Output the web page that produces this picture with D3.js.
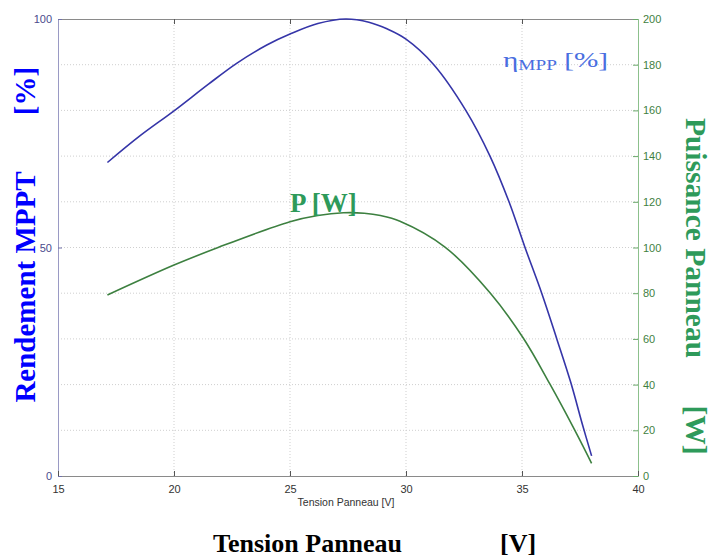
<!DOCTYPE html>
<html><head><meta charset="utf-8">
<script src="https://cdn.jsdelivr.net/npm/d3@7"></script>
<style>body{margin:0;background:#fff}svg{display:block}</style>
</head><body>
<svg id="c" width="711" height="559"></svg>
<script>
// Data
const xTicks = [15, 20, 25, 30, 35, 40];
const leftTicks = [0, 50, 100];
const rightTicks = [0, 20, 40, 60, 80, 100, 120, 140, 160, 180, 200];
const etaV = [17.13, 18.5, 20, 21.5, 22.7, 24, 25, 26.2, 27.4, 28.4, 29.2, 30, 31.18, 32.59, 33.62, 34.44, 35.13, 35.85, 36.5, 37.1, 37.62, 38.0];
const etaVal = [68.6, 74.3, 79.9, 85.8, 90.3, 94.3, 96.7, 99.0, 100, 99.3, 97.8, 95.6, 90.1, 79.9, 70.0, 60.0, 50.0, 40.0, 30.0, 20.5, 11.0, 4.4];
const pV = [17.13, 20, 21.9, 25, 26.2, 27.3, 28.2, 28.9, 29.74, 31.68, 33.62, 35.06, 36.2, 37.2, 38.0];
const pVal = [79.2, 92.3, 100.0, 111.3, 114.0, 115.2, 115.0, 114.0, 111.5, 100.2, 80.2, 60.3, 40.3, 21.5, 5.5];

const svg = d3.select("#c");
const L = 58, R = 638, T = 19, B = 476;
const x = d3.scaleLinear().domain([15, 40]).range([L, R]);
const yL = d3.scaleLinear().domain([0, 100]).range([B, T]);
const yR = d3.scaleLinear().domain([0, 200]).range([B, T]);
const sans = "Liberation Sans, Arial, Helvetica, sans-serif";
const serif = "Liberation Serif, Times New Roman, serif";

// grid
const g = svg.append("g");
g.selectAll("line.h").data(rightTicks.filter(d => d > 0 && d < 200)).enter().append("line")
  .attr("x1", L).attr("x2", R).attr("y1", d => yR(d)).attr("y2", d => yR(d))
  .attr("stroke", "#cfcfcf").attr("stroke-width", 1).attr("stroke-dasharray", "1,2");
g.selectAll("line.v").data(xTicks.filter(d => d > 15 && d < 40)).enter().append("line")
  .attr("x1", d => x(d)).attr("x2", d => x(d)).attr("y1", T).attr("y2", B)
  .attr("stroke", "#cfcfcf").attr("stroke-width", 1).attr("stroke-dasharray", "1,2");

// frame
svg.append("line").attr("x1", L).attr("x2", R).attr("y1", T + 0.5).attr("y2", T + 0.5).attr("stroke", "#8a8a8a");
svg.append("line").attr("x1", L).attr("x2", R).attr("y1", B + 0.5).attr("y2", B + 0.5).attr("stroke", "#8a8a8a");
svg.append("line").attr("x1", L + 0.5).attr("x2", L + 0.5).attr("y1", T).attr("y2", B + 1).attr("stroke", "#9a9ac4");
svg.append("line").attr("x1", R + 0.5).attr("x2", R + 0.5).attr("y1", T).attr("y2", B + 1).attr("stroke", "#8cc08c");

// bottom axis
const xa = svg.append("g").attr("transform", `translate(0,${B})`)
  .call(d3.axisBottom(x).tickValues(xTicks).tickSize(-5).tickPadding(9).tickFormat(d3.format("d")));
xa.select(".domain").remove();
xa.selectAll(".tick line").attr("stroke", "#555");
xa.selectAll("text").attr("font-family", sans).attr("font-size", 11).attr("fill", "#333");
// top ticks
svg.selectAll("line.tt").data(xTicks.filter(d => d > 15 && d < 40)).enter().append("line")
  .attr("x1", d => x(d) + 0.5).attr("x2", d => x(d) + 0.5).attr("y1", T).attr("y2", T + 5).attr("stroke", "#555");

// left axis
const la = svg.append("g").attr("transform", `translate(${L},0)`)
  .call(d3.axisLeft(yL).tickValues(leftTicks).tickSize(-4).tickPadding(6).tickFormat(d3.format("d")));
la.select(".domain").remove();
la.selectAll(".tick line").attr("stroke", "#7070a8");
la.selectAll("text").attr("font-family", sans).attr("font-size", 11).attr("fill", "#4a4a8c");

// right axis
const ra = svg.append("g").attr("transform", `translate(${R},0)`)
  .call(d3.axisRight(yR).tickValues(rightTicks).tickSize(-5).tickPadding(5).tickFormat(d3.format("d")));
ra.select(".domain").remove();
ra.selectAll(".tick line").attr("stroke", "#6aa86a");
ra.selectAll("text").attr("font-family", sans).attr("font-size", 11).attr("fill", "#3f7f3f");

// curves
const lineEta = d3.line().x((d, i) => x(etaV[i])).y(d => yL(d)).curve(d3.curveCatmullRom.alpha(0.5));
const lineP = d3.line().x((d, i) => x(pV[i])).y(d => yR(d)).curve(d3.curveCatmullRom.alpha(0.5));
svg.append("path").attr("d", lineEta(etaVal)).attr("fill", "none").attr("stroke", "#3535a8").attr("stroke-width", 1.6);
svg.append("path").attr("d", lineP(pVal)).attr("fill", "none").attr("stroke", "#3d8040").attr("stroke-width", 1.6);

// small x label
svg.append("text").attr("x", (L + R) / 2 - 2).attr("y", 506).attr("text-anchor", "middle")
  .attr("font-family", sans).attr("font-size", 10.5).attr("fill", "#333").text("Tension Panneau [V]");

// big bottom title
svg.append("text").attr("x", 213).attr("y", 552).attr("font-family", serif).attr("font-weight", "bold")
  .attr("font-size", 26).attr("fill", "#000").text("Tension Panneau");
svg.append("text").attr("x", 500).attr("y", 552).attr("font-family", serif).attr("font-weight", "bold")
  .attr("font-size", 26).attr("fill", "#000").text("[V]");

// left titles
svg.append("text").attr("transform", "translate(35,287) rotate(-90)").attr("text-anchor", "middle")
  .attr("font-family", serif).attr("font-weight", "bold").attr("font-size", 29).attr("fill", "#0000ff").text("Rendement MPPT");
svg.append("text").attr("transform", "translate(35,91) rotate(-90)").attr("text-anchor", "middle")
  .attr("font-family", serif).attr("font-weight", "bold").attr("font-size", 29).attr("fill", "#0000ff").text("[%]");

// right titles
svg.append("text").attr("transform", "translate(686,238) rotate(90)").attr("text-anchor", "middle")
  .attr("font-family", serif).attr("font-weight", "bold").attr("font-size", 29.5).attr("fill", "#2e9a5a").text("Puissance Panneau");
svg.append("text").attr("transform", "translate(686,430) rotate(90)").attr("text-anchor", "middle")
  .attr("font-family", serif).attr("font-weight", "bold").attr("font-size", 29.5).attr("fill", "#2e9a5a").text("[W]");

// P [W] label
svg.append("text").attr("x", 290).attr("y", 212).attr("font-family", serif).attr("font-weight", "bold")
  .attr("font-size", 27).attr("fill", "#2e9a5a").text("P [W]");

// eta label (horizontally stretched like the reference)
const et = svg.append("text").attr("transform", "translate(503,67) scale(1.33,1)")
  .attr("font-family", serif).attr("font-size", 22).attr("fill", "#4a6ee0");
et.append("tspan").text("η");
et.append("tspan").attr("font-size", 14.5).attr("dy", 3).text("MPP");
et.append("tspan").attr("dy", -3).text(" [%]");
</script>
</body></html>
